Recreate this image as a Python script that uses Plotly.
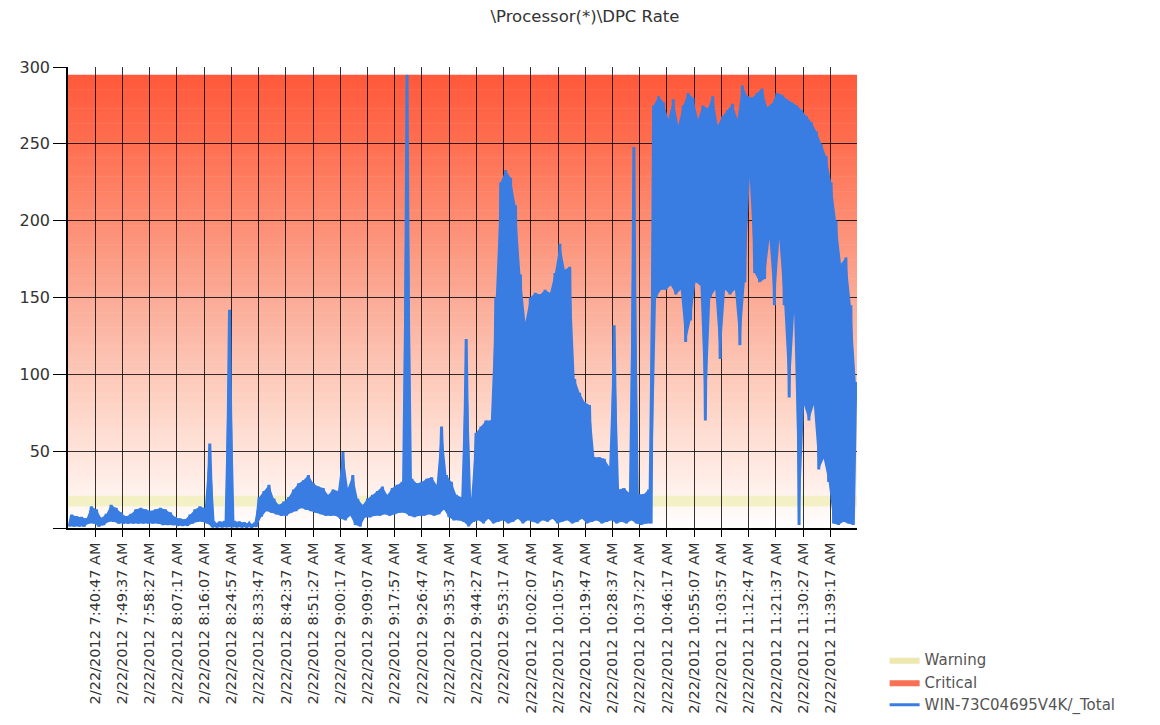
import datetime as dt
import plotly.graph_objects as go

# ---------------- data ----------------
title_text = "\\Processor(*)\\DPC Rate"
series_name = "WIN-73C04695V4K/_Total"
start_time = "2012-02-22 07:31:57"
sample_seconds = 96          # one envelope bucket per 96 s

# upper / lower envelope of the sampled DPC rate in each bucket
upper = [
    8.6, 7.5, 7, 6, 14, 12, 6.5, 9, 15, 13,
    10, 7.5, 9, 12, 13, 12, 11, 12, 13, 12,
    10, 7, 6, 5.5, 8.6, 12, 14, 13, 55, 3,
    4, 4.3, 142, 4.3, 4, 3.5, 3, 2.6, 20, 24,
    28, 19, 15, 17, 20, 25, 29, 31, 34.5, 29,
    27, 26, 21.5, 25, 24, 49.5, 26, 34.5, 19, 15,
    19, 21.5, 24, 27, 21.5, 26, 28, 30, 295, 32,
    29, 30, 32, 33, 28, 66, 34.5, 30, 21.5, 20,
    123, 19, 62, 66, 70, 70, 150, 225, 233, 228,
    210, 165, 134, 150, 153, 152, 155, 153, 166, 185,
    168, 170, 97, 88, 82, 80, 46, 46, 45, 40,
    132, 25, 26, 23, 248, 22, 22, 25, 275, 281,
    277, 266, 279, 262, 275, 283, 280, 266, 275, 273,
    281, 262, 268, 272, 276, 266, 288, 281, 280, 283,
    286, 274, 276, 283, 282, 279, 277, 275, 272, 268,
    264, 258, 250, 242, 225, 200, 172, 176, 145, 95,
]
lower = [
    1, 1, 1, 1, 3, 3, 1, 2, 4, 4,
    3, 3, 3, 3, 3, 3, 3, 3, 3, 2,
    2, 2, 1.5, 1.5, 1.5, 3, 4, 4, 3, 0.5,
    0.5, 0.5, 0.5, 0.5, 0.5, 0.5, 0.5, 0.5, 1, 7.5,
    11, 10, 9, 8, 8, 10, 11, 13, 12, 11,
    10, 9, 8, 8, 8, 6, 5, 8, 2, 1,
    7, 7, 8, 8, 9, 8, 9, 10, 10, 8,
    7, 8, 8, 9, 8, 9, 12, 7, 5, 5,
    4, 1, 4, 5, 3, 6, 3, 4, 5, 3,
    4, 6, 3, 5, 4, 3, 5, 4, 6, 3,
    4, 5, 3, 4, 6, 3, 4, 5, 3, 4,
    5, 3, 4, 3, 5, 3, 2, 3, 3, 150,
    155, 155, 158, 152, 155, 121, 135, 160, 158, 70,
    150, 155, 110, 155, 152, 155, 119, 160, 228, 166,
    160, 162, 188, 145, 188, 145, 85, 140, 2, 80,
    70, 80, 38, 45, 30, 3, 2, 4, 3, 2,
]

tick_labels = [
    "2/22/2012 7:40:47 AM", "2/22/2012 7:49:37 AM", "2/22/2012 7:58:27 AM",
    "2/22/2012 8:07:17 AM", "2/22/2012 8:16:07 AM", "2/22/2012 8:24:57 AM",
    "2/22/2012 8:33:47 AM", "2/22/2012 8:42:37 AM", "2/22/2012 8:51:27 AM",
    "2/22/2012 9:00:17 AM", "2/22/2012 9:09:07 AM", "2/22/2012 9:17:57 AM",
    "2/22/2012 9:26:47 AM", "2/22/2012 9:35:37 AM", "2/22/2012 9:44:27 AM",
    "2/22/2012 9:53:17 AM", "2/22/2012 10:02:07 AM", "2/22/2012 10:10:57 AM",
    "2/22/2012 10:19:47 AM", "2/22/2012 10:28:37 AM", "2/22/2012 10:37:27 AM",
    "2/22/2012 10:46:17 AM", "2/22/2012 10:55:07 AM", "2/22/2012 11:03:57 AM",
    "2/22/2012 11:12:47 AM", "2/22/2012 11:21:37 AM", "2/22/2012 11:30:27 AM",
    "2/22/2012 11:39:17 AM",
]
y_ticks = [0, 50, 100, 150, 200, 250, 300]
y_tick_text = ["", "50", "100", "150", "200", "250", "300"]
warning_band = [14, 21]
critical_band = [0, 295]

# ---------------- build ----------------
t0 = dt.datetime.strptime(start_time, "%Y-%m-%d %H:%M:%S")
x_lo, x_hi, xs, ys = [], [], [], []
for i, (lo, hi) in enumerate(zip(lower, upper)):
    base = t0 + dt.timedelta(seconds=i * sample_seconds)
    a = base + dt.timedelta(seconds=sample_seconds * 0.25)
    b = base + dt.timedelta(seconds=sample_seconds * 0.75)
    x_lo.append(a)
    x_hi.append(b)
    xs += [a, b]
    ys += [lo, hi]
x_end = t0 + dt.timedelta(seconds=len(upper) * sample_seconds)

tick_vals = [dt.datetime.strptime(s, "%m/%d/%Y %I:%M:%S %p") for s in tick_labels]

# gradient for the critical zone (white at bottom -> red at top)
stops = [
    (0.0, (255, 255, 255)), (0.1, (255, 238, 232)), (0.3, (253, 207, 192)),
    (0.5, (251, 172, 152)), (0.7, (253, 137, 110)), (0.85, (255, 110, 80)),
    (1.0, (255, 88, 58)),
]


def grad(f):
    for (f0, c0), (f1, c1) in zip(stops[:-1], stops[1:]):
        if f0 <= f <= f1:
            u = (f - f0) / (f1 - f0)
            return "rgb(%d,%d,%d)" % tuple(round(p + (q - p) * u) for p, q in zip(c0, c1))
    return "rgb(%d,%d,%d)" % stops[-1][1]


shapes = []
n_strips = 120
c_lo, c_hi = critical_band
for k in range(n_strips):
    y0 = c_lo + (c_hi - c_lo) * k / n_strips
    y1 = c_lo + (c_hi - c_lo) * (k + 1) / n_strips
    shapes.append(dict(type="rect", xref="paper", x0=0, x1=1, yref="y", y0=y0,
                       y1=min(y1 + 0.3, c_hi), fillcolor=grad((k + 0.5) / n_strips),
                       line=dict(width=0), layer="below"))
shapes.append(dict(type="rect", xref="paper", x0=0, x1=1, yref="y",
                   y0=warning_band[0], y1=warning_band[1],
                   fillcolor="rgba(240,238,178,0.7)", line=dict(width=0), layer="below"))

blue = "#3a7de2"
fig = go.Figure()
fig.add_trace(go.Scatter(x=[None], y=[None], mode="lines", fill="toself",
                         fillcolor="rgb(236,232,175)", line=dict(width=0, color="rgb(236,232,175)"),
                         name="Warning"))
fig.add_trace(go.Scatter(x=[None], y=[None], mode="lines", fill="toself",
                         fillcolor="rgb(250,112,84)", line=dict(width=0, color="rgb(250,112,84)"),
                         name="Critical"))
# solid body between the lower and upper envelope
fig.add_trace(go.Scatter(x=x_lo, y=lower, mode="lines", line=dict(width=0, color=blue, simplify=False),
                         showlegend=False, hoverinfo="skip"))
fig.add_trace(go.Scatter(x=x_hi, y=upper, mode="lines", fill="tonexty", fillcolor=blue,
                         line=dict(width=0, color=blue, simplify=False),
                         showlegend=False, hoverinfo="skip"))
# the jagged sample line itself
fig.add_trace(go.Scatter(x=xs, y=ys, mode="lines", name=series_name,
                         line=dict(color=blue, width=3, simplify=False)))

font_family = "DejaVu Sans, Verdana, sans-serif"
fig.update_layout(
    width=1160, height=725,
    margin=dict(l=53, r=311, t=59, b=201),
    paper_bgcolor="white", plot_bgcolor="white",
    font=dict(family=font_family, color="#333"),
    title=dict(text=title_text, x=0.4974, xref="container", xanchor="center",
               y=0.989, yref="container", yanchor="middle",
               font=dict(size=16.5, color="#333", family=font_family)),
    shapes=shapes,
    showlegend=True,
    legend=dict(x=1.035, y=-0.4195, xanchor="left", yanchor="bottom",
                traceorder="normal",
                font=dict(size=15, color="#555", family=font_family),
                bgcolor="rgba(0,0,0,0)", tracegroupgap=0, itemwidth=30),
    xaxis=dict(
        type="date", range=[t0, x_end],
        tickmode="array", tickvals=tick_vals, ticktext=tick_labels, tickangle=-90,
        tickfont=dict(size=14.5, color="#333"),
        showgrid=True, gridcolor="rgba(0,0,0,0.8)", gridwidth=1,
        showline=True, linecolor="black", linewidth=1.5,
        ticks="outside", ticklen=7, tickcolor="black", zeroline=False,
    ),
    yaxis=dict(
        range=[0, 300], tickmode="array", tickvals=y_ticks, ticktext=y_tick_text,
        tickfont=dict(size=16, color="#333"),
        showgrid=True, gridcolor="rgba(0,0,0,0.8)", gridwidth=1,
        showline=True, linecolor="black", linewidth=1.5,
        ticks="outside", ticklen=13, tickcolor="black", zeroline=False,
    ),
)

fig.write_html("out.html")
